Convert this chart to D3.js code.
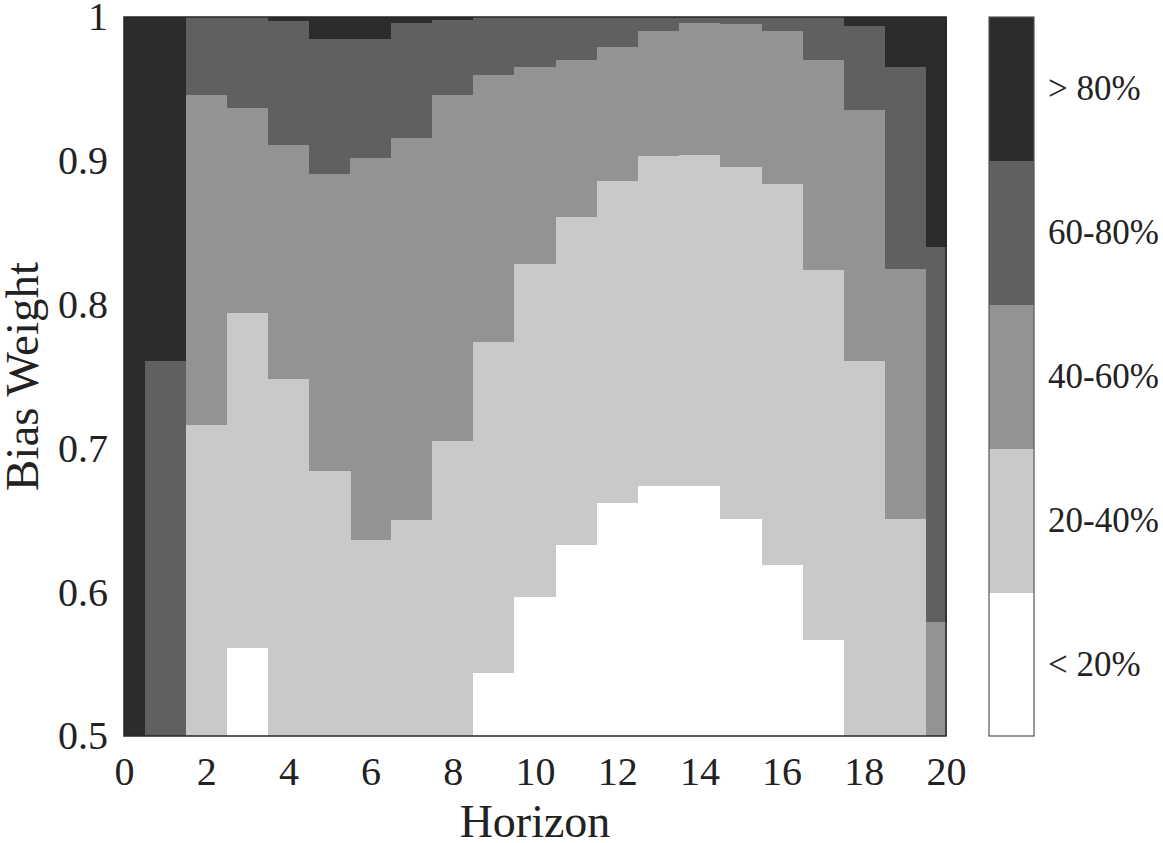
<html lang="en">
  <head>
    <meta charset="utf-8" />
    <title>Bias Weight vs Horizon</title>
    <script src="https://cdnjs.cloudflare.com/ajax/libs/d3/7.8.5/d3.min.js"></script>
    <style>
      body { margin: 0; background: #fff; }
      text { font-family: "Liberation Serif", "DejaVu Serif", serif; fill: #222; }
    </style>
  </head>
  <body>
    <script type="text/javascript">
      /*************************** Data ***************************/

      var horizons = [0, 1, 2, 3, 4, 5, 6, 7, 8, 9, 10, 11, 12, 13, 14, 15, 16, 17, 18, 19, 20];

      // upper edge of each band per horizon (bias weight where the band ends)
      var top20 = [0.5, 0.5, 0.5, 0.561, 0.5, 0.5, 0.5, 0.5, 0.5, 0.544, 0.597, 0.633, 0.662, 0.674, 0.674, 0.651, 0.619, 0.567, 0.5, 0.5, 0.5];
      var top40 = [0.5, 0.5, 0.716, 0.794, 0.748, 0.684, 0.636, 0.65, 0.705, 0.774, 0.828, 0.861, 0.886, 0.903, 0.904, 0.896, 0.884, 0.824, 0.761, 0.651, 0.5];
      var top60 = [0.5, 0.5, 0.946, 0.937, 0.911, 0.891, 0.902, 0.916, 0.946, 0.96, 0.965, 0.97, 0.979, 0.99, 0.996, 0.995, 0.99, 0.97, 0.935, 0.825, 0.579];
      var top80 = [0.5, 0.761, 1.0, 1.0, 0.997, 0.985, 0.985, 0.996, 0.998, 1.0, 1.0, 1.0, 1.0, 1.0, 1.0, 1.0, 1.0, 1.0, 0.994, 0.965, 0.84];

      var levels = ["< 20%", "20-40%", "40-60%", "60-80%", "> 80%"];
      var levelColors = ["#ffffff", "#c9c9c9", "#939393", "#606060", "#2c2c2c"];

      var xTicks = [0, 2, 4, 6, 8, 10, 12, 14, 16, 18, 20];
      var yTicks = [0.5, 0.6, 0.7, 0.8, 0.9, 1];

      /*************************** Canvas ***************************/

      var width = 1163, height = 843;
      var plot = { left: 124, right: 946, top: 17, bottom: 736 };
      var bar = { left: 989, right: 1034 };

      var svg = d3.select("body").append("svg")
        .attr("width", width)
        .attr("height", height);

      var x = d3.scaleLinear().domain([0, 20]).range([plot.left, plot.right]);
      var y = d3.scaleLinear().domain([0.5, 1]).range([plot.bottom, plot.top]);

      /*************************** Heat map ***************************/

      // paint from the darkest band down so the lighter ones sit on top
      var tops = [top20, top40, top60, top80, null];
      var cells = svg.append("g").attr("shape-rendering", "crispEdges");

      for (var k = levels.length - 1; k >= 0; k--) {
        cells.selectAll(null)
          .data(horizons)
          .enter().append("rect")
          .attr("x", function (h) { return x(Math.max(0, h - 0.5)); })
          .attr("width", function (h) { return x(Math.min(20, h + 0.5)) - x(Math.max(0, h - 0.5)) + 0.5; })
          .attr("y", function (h, i) { return tops[k] ? y(tops[k][i]) : y(1); })
          .attr("height", function (h, i) { return plot.bottom - (tops[k] ? y(tops[k][i]) : y(1)); })
          .attr("fill", levelColors[k]);
      }

      svg.append("rect")
        .attr("x", plot.left).attr("y", plot.top)
        .attr("width", plot.right - plot.left)
        .attr("height", plot.bottom - plot.top)
        .attr("fill", "none")
        .attr("stroke", "#262626")
        .attr("stroke-width", 1.5);

      /*************************** Axes ***************************/

      var xAxis = svg.append("g")
        .attr("transform", "translate(0," + plot.bottom + ")")
        .call(d3.axisBottom(x).tickValues(xTicks).tickSize(0).tickPadding(21));

      var yAxis = svg.append("g")
        .attr("transform", "translate(" + plot.left + ",0)")
        .call(d3.axisLeft(y).tickValues(yTicks).tickSize(0).tickPadding(16).tickFormat(d3.format("")));

      [xAxis, yAxis].forEach(function (a) {
        a.select(".domain").remove();
        a.selectAll("text").style("font-size", "40px").attr("fill", "#222")
          .style("font-family", '"Liberation Serif", serif');
      });

      svg.append("text")
        .attr("x", (plot.left + plot.right) / 2)
        .attr("y", 837)
        .attr("text-anchor", "middle")
        .style("font-size", "46px")
        .text("Horizon");

      svg.append("text")
        .attr("transform", "translate(38," + (plot.top + plot.bottom) / 2 + ") rotate(-90)")
        .attr("text-anchor", "middle")
        .style("font-size", "47px")
        .text("Bias Weight");

      /*************************** Colour bar ***************************/

      var band = d3.scaleBand()
        .domain(levels.slice().reverse())
        .range([plot.top, plot.bottom]);

      svg.append("g").attr("shape-rendering", "crispEdges")
        .selectAll("rect")
        .data(levels)
        .enter().append("rect")
        .attr("x", bar.left)
        .attr("y", function (d) { return band(d); })
        .attr("width", bar.right - bar.left)
        .attr("height", band.bandwidth() + 0.5)
        .attr("fill", function (d, i) { return levelColors[i]; });

      svg.append("rect")
        .attr("x", bar.left).attr("y", plot.top)
        .attr("width", bar.right - bar.left)
        .attr("height", plot.bottom - plot.top)
        .attr("fill", "none")
        .attr("stroke", "#555")
        .attr("stroke-width", 1.2);

      svg.append("g")
        .selectAll("text")
        .data(levels)
        .enter().append("text")
        .attr("x", 1048)
        .attr("y", function (d) { return band(d) + band.bandwidth() / 2; })
        .attr("dy", "0.33em")
        .style("font-size", "35px")
        .text(function (d) { return d; });
    </script>
  </body>
</html>
